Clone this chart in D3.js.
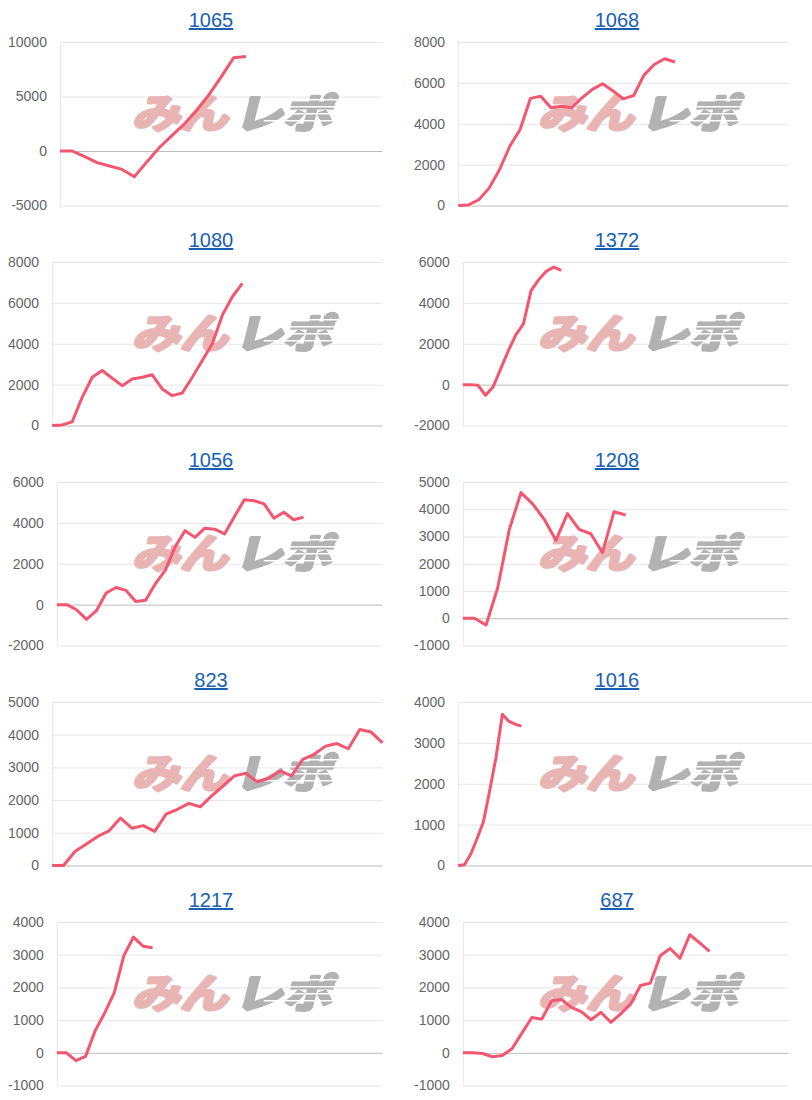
<!DOCTYPE html>
<html>
<head>
<meta charset="utf-8">
<script src="https://cdn.jsdelivr.net/npm/d3@7"></script>
<style>
  body { margin: 0; background: #fff; }
  svg { display: block; font-family: "Liberation Sans", Arial, Helvetica, sans-serif; }
</style>
</head>
<body>
<div id="charts"></div>
<script>
// machine numbers, one small chart each
const titles = ["1065", "1068", "1080", "1372", "1056", "1208", "823", "1016", "1217", "687"];
// number of x categories (days) on each chart's axis
const dayCounts = [27, 33, 34, 44, 34, 29, 30, 57, 35, 34];

// y tick labels
const ticks1065 = [-5000, 0, 5000, 10000];
const ticks1068 = [0, 2000, 4000, 6000, 8000];
const ticks1080 = [0, 2000, 4000, 6000, 8000];
const ticks1372 = [-2000, 0, 2000, 4000, 6000];
const ticks1056 = [-2000, 0, 2000, 4000, 6000];
const ticks1208 = [-1000, 0, 1000, 2000, 3000, 4000, 5000];
const ticks823 = [0, 1000, 2000, 3000, 4000, 5000];
const ticks1016 = [0, 1000, 2000, 3000, 4000];
const ticks1217 = [-1000, 0, 1000, 2000, 3000, 4000];
const ticks687 = [-1000, 0, 1000, 2000, 3000, 4000];

// series values
const values1065 = [0, 0, -520, -1070, -1380, -1690, -2360, -1000, 300, 1380, 2450, 3690, 5150, 6800, 8550, 8680];
const values1068 = [0, 30, 280, 850, 1750, 2900, 3720, 5240, 5350, 4780, 4860, 4780, 5270, 5680, 5960, 5600, 5220, 5380, 6380, 6900, 7180, 7020];
const values1080 = [0, 30, 180, 1380, 2360, 2690, 2310, 1950, 2280, 2360, 2480, 1790, 1460, 1590, 2360, 3180, 4000, 5400, 6300, 6950];
const values1372 = [0, 0, -30, -520, -110, 770, 1650, 2430, 2970, 4590, 5130, 5540, 5750, 5590];
const values1056 = [0, 0, -250, -720, -310, 570, 840, 700, 150, 210, 1030, 1690, 2840, 3620, 3290, 3740, 3690, 3460, 4310, 5130, 5080, 4930, 4230, 4520, 4150, 4280];
const values1208 = [0, 0, -250, 1120, 3260, 4610, 4200, 3630, 2860, 3840, 3260, 3100, 2410, 3910, 3790];
const values823 = [0, 0, 430, 660, 890, 1060, 1450, 1140, 1220, 1045, 1570, 1720, 1900, 1795, 2130, 2430, 2740, 2820, 2560, 2660, 2890, 2740, 3245, 3400, 3650, 3730, 3570, 4160, 4080, 3750];
const values1016 = [0, 20, 280, 660, 1070, 1840, 2650, 3700, 3530, 3460, 3410];
const values1217 = [0, 0, -240, -110, 670, 1220, 1840, 2970, 3540, 3260, 3210];
const values687 = [0, 0, -20, -120, -80, 130, 610, 1080, 1030, 1590, 1630, 1390, 1260, 1010, 1240, 930, 1190, 1490, 2060, 2130, 2970, 3190, 2890, 3610, 3360, 3100];

const tickSets = [ticks1065, ticks1068, ticks1080, ticks1372, ticks1056, ticks1208, ticks823, ticks1016, ticks1217, ticks687];
const valueSets = [values1065, values1068, values1080, values1372, values1056, values1208, values823, values1016, values1217, values687];

// this one is drawn on a wider canvas, its grid runs to the page edge
const wideCharts = ["1016"];

const charts = titles.map((t, i) => ({
  title: t,
  days: dayCounts[i],
  ticks: tickSets[i],
  values: valueSets[i],
}));

const cellWidth = 406;
const cellHeight = 220;
const plotTop = 42;
const plotBottom = 205.5;
const lineColor = "#f4566f";

const svg = d3.select("#charts")
  .append("svg")
  .attr("width", 812)
  .attr("height", 1100);

// speed-line stripes cut through the grey half of the logo
const mask = svg.append("defs").append("mask").attr("id", "wm-stripes");
mask.append("rect").attr("x", -10).attr("y", -50).attr("width", 130).attr("height", 70).attr("fill", "#fff");
[-29, -22, -15, -8].forEach((sy, k) => {
  mask.append("rect")
    .attr("x", k % 2 ? 30 : 50)
    .attr("y", sy)
    .attr("width", 80)
    .attr("height", 1.6)
    .attr("fill", "#000");
});

charts.forEach((c, i) => {
  const g = svg.append("g")
    .attr("transform", `translate(${(i % 2) * cellWidth},${Math.floor(i / 2) * cellHeight})`);

  // title link
  g.append("text")
    .attr("x", 211)
    .attr("y", 27)
    .attr("text-anchor", "middle")
    .attr("fill", "#1a5fb4")
    .style("font-size", "20px")
    .style("text-decoration", "underline")
    .text(c.title);

  // left margin follows the widest tick label
  const probe = g.append("text").style("font-size", "14px");
  let maxW = 0;
  c.ticks.forEach((t) => {
    probe.text(String(t));
    maxW = Math.max(maxW, probe.node().getComputedTextLength());
  });
  probe.remove();

  const left = 8 + maxW + 13;
  const right = wideCharts.includes(c.title) ? cellWidth : 382.5;

  const y = d3.scaleLinear().domain(d3.extent(c.ticks)).range([plotBottom, plotTop]);
  const x = d3.scalePoint().domain(d3.range(c.days)).range([left, right]);

  const axis = d3.axisLeft(y)
    .tickValues(c.ticks)
    .tickSize(-(right - left))
    .tickSizeOuter(0)
    .tickPadding(13)
    .tickFormat((d) => String(d));

  const ga = g.append("g")
    .attr("transform", `translate(${left},0)`)
    .call(axis)
    .attr("font-size", 14)
    .attr("font-family", null);

  ga.select(".domain").attr("stroke", "#e6e6e6");
  ga.selectAll(".tick line").attr("stroke", (d) => (d === 0 ? "#bdbdbd" : "#e6e6e6"));
  ga.selectAll(".tick text").attr("fill", "#666");

  // watermark
  const wm = g.append("g")
    .attr("transform", "translate(232,128) skewX(-14)")
    .style("font-family", "'Noto Sans CJK JP', sans-serif")
    .style("font-weight", "bold")
    .style("font-size", "40px")
    .style("paint-order", "stroke");
  wm.append("text")
    .attr("x", -100)
    .attr("textLength", 96)
    .attr("lengthAdjust", "spacingAndGlyphs")
    .attr("fill", "#e8b4b4")
    .attr("stroke", "#e8b4b4")
    .attr("stroke-width", 3.2)
    .attr("stroke-linejoin", "round")
    .text("みん");
  wm.append("text")
    .attr("x", 2)
    .attr("textLength", 98)
    .attr("lengthAdjust", "spacingAndGlyphs")
    .attr("fill", "#b2b2b2")
    .attr("stroke", "#b2b2b2")
    .attr("stroke-width", 3.2)
    .attr("stroke-linejoin", "round")
    .attr("mask", "url(#wm-stripes)")
    .text("レポ");

  // series line
  const line = d3.line()
    .x((d, j) => x(j))
    .y((d) => y(d));

  g.append("path")
    .datum(c.values)
    .attr("d", line)
    .attr("fill", "none")
    .attr("stroke", lineColor)
    .attr("stroke-width", 3)
    .attr("stroke-linejoin", "round");
});
</script>
</body>
</html>
